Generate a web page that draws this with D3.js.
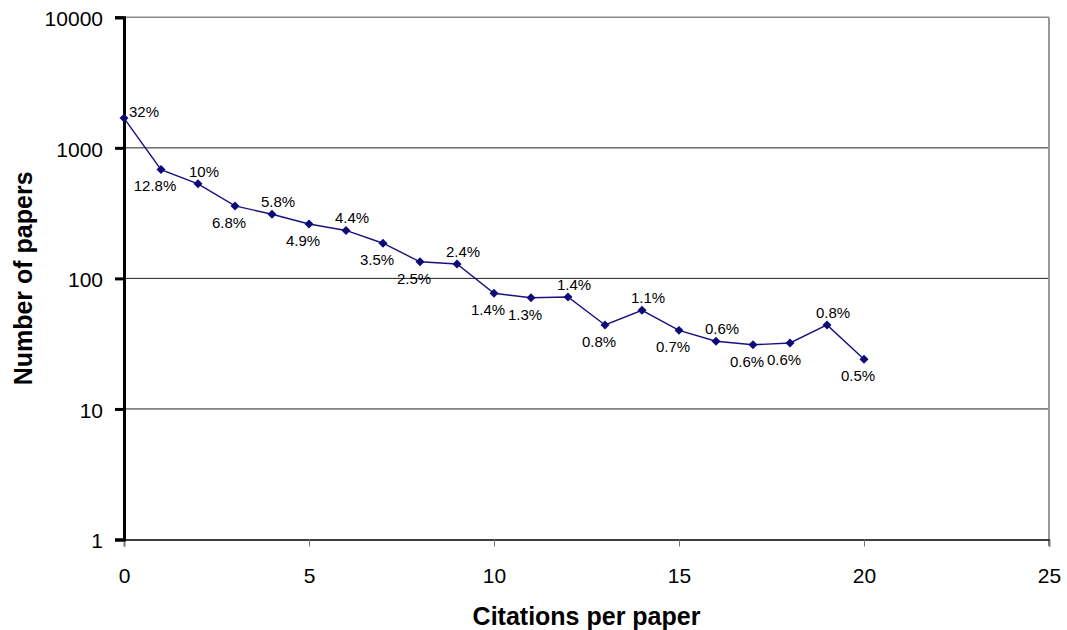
<!DOCTYPE html>
<html>
<head>
<meta charset="utf-8">
<script src="https://cdn.jsdelivr.net/npm/d3@7"></script>
<style>
  body { margin: 0; background: #fff; }
  text { font-family: "Liberation Sans", Arial, sans-serif; }
</style>
</head>
<body>
<div id="chart"></div>
<script>
// data
const citations = [0, 1, 2, 3, 4, 5, 6, 7, 8, 9, 10, 11, 12, 13, 14, 15, 16, 17, 18, 19, 20];
const papers = [1690, 682, 530, 359, 310, 261, 233, 186, 134, 129, 77, 71, 72, 44, 57, 40, 33, 31, 32, 44, 24];
const shares = ['32%', '12.8%', '10%', '6.8%', '5.8%', '4.9%', '4.4%', '3.5%', '2.5%', '2.4%', '1.4%', '1.3%', '1.4%',
  '0.8%', '1.1%', '0.7%', '0.6%', '0.6%', '0.6%', '0.8%', '0.5%'];
const labelSide = ['right', 'below', 'above', 'below', 'above', 'below', 'above', 'below', 'below', 'above', 'below',
  'below', 'above', 'below', 'above', 'below', 'above', 'below', 'below', 'above', 'below'];
const yTicks = [1, 10, 100, 1000, 10000];
const xTicks = [0, 5, 10, 15, 20, 25];

const width = 1067, height = 630;
const margin = { top: 17.3, right: 18, bottom: 90.5, left: 124 };
const w = width - margin.left - margin.right;
const h = height - margin.top - margin.bottom;

const svg = d3.select('#chart').append('svg')
  .attr('width', width)
  .attr('height', height);

const g = svg.append('g').attr('transform', `translate(${margin.left},${margin.top})`);

const x = d3.scaleLinear().domain([0, 25]).range([0, w]);
const y = d3.scaleLog().domain([1, 10000]).range([h, 0]);

// gridlines
g.selectAll('.grid')
  .data(yTicks.filter(d => d > 1 && d < 10000))
  .join('line')
  .attr('x1', 0).attr('x2', w)
  .attr('y1', d => y(d)).attr('y2', d => y(d))
  .attr('stroke', '#222').attr('stroke-width', 1);

// top and right frame
g.append('line').attr('x1', 0).attr('x2', w).attr('y1', 0).attr('y2', 0)
  .attr('stroke', '#888').attr('stroke-width', 1.5);
g.append('line').attr('x1', w).attr('x2', w).attr('y1', 0).attr('y2', h + 6)
  .attr('stroke', '#999').attr('stroke-width', 2);

// x axis
const xAxis = g.append('g')
  .attr('transform', `translate(0,${h})`)
  .call(d3.axisBottom(x).tickValues(xTicks).tickSize(7).tickPadding(0));
xAxis.select('.domain').attr('stroke', '#000').attr('stroke-width', 1.5);
xAxis.selectAll('.tick line').attr('stroke', '#777').attr('stroke-width', 1);
xAxis.selectAll('.tick text')
  .attr('y', 43).attr('dy', null)
  .attr('fill', '#000')
  .style('font-size', '21px');

// y axis
const yAxis = g.append('g')
  .call(d3.axisLeft(y).tickValues(yTicks).tickFormat(d3.format('d')).tickSize(9).tickPadding(12));
yAxis.select('.domain').attr('stroke', '#000').attr('stroke-width', 3);
yAxis.selectAll('.tick line').attr('stroke', '#000').attr('stroke-width', 3);
yAxis.selectAll('.tick text')
  .attr('dy', '0.4em')
  .attr('fill', '#000')
  .style('font-size', '21px');

// titles
svg.append('text')
  .attr('x', margin.left + w / 2)
  .attr('y', 625)
  .attr('text-anchor', 'middle')
  .style('font-size', '25px')
  .style('font-weight', 'bold')
  .text('Citations per paper');

svg.append('text')
  .attr('transform', `translate(32,${margin.top + h / 2}) rotate(-90)`)
  .attr('text-anchor', 'middle')
  .style('font-size', '25px')
  .style('font-weight', 'bold')
  .text('Number of papers');

// series
const points = citations.map((c, i) => ({ c, n: papers[i], label: shares[i], side: labelSide[i] }));

const line = d3.line().x(d => x(d.c)).y(d => y(d.n));
g.append('path')
  .datum(points)
  .attr('d', line)
  .attr('fill', 'none')
  .attr('stroke', '#1a1080')
  .attr('stroke-width', 1.4);

g.selectAll('.marker')
  .data(points)
  .join('path')
  .attr('d', d3.symbol(d3.symbolSquare, 40))
  .attr('transform', d => `translate(${x(d.c)},${y(d.n)}) rotate(45)`)
  .attr('fill', '#0c0a78');

// data labels
g.selectAll('.lbl')
  .data(points)
  .join('text')
  .attr('x', d => x(d.c) + (d.side === 'right' ? 5 : d.side === 'above' ? 6 : -6))
  .attr('y', d => y(d.n) + (d.side === 'right' ? -6 : d.side === 'above' ? -12.5 : 16.5))
  .attr('dy', '0.35em')
  .attr('text-anchor', d => d.side === 'right' ? 'start' : 'middle')
  .attr('fill', '#000')
  .style('font-size', '15px')
  .text(d => d.label);
</script>
</body>
</html>
